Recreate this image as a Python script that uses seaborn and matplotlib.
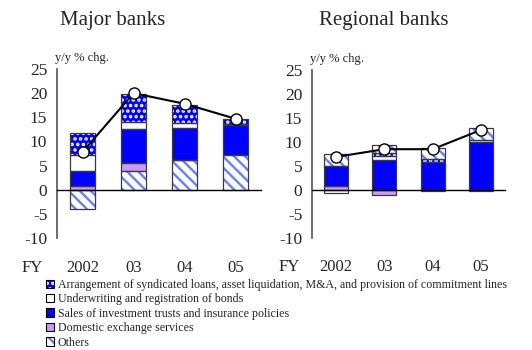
import matplotlib
matplotlib.use("Agg")
import matplotlib.pyplot as plt
import matplotlib.transforms as mtransforms
from matplotlib.patches import Patch
import numpy as np
import pandas as pd
import seaborn as sns

# ---- data -------------------------------------------------------------
years = ["2002", "03", "04", "05"]

series_names = [
    "Arrangement of syndicated loans, asset liquidation, M&A, and provision of commitment lines",
    "Underwriting and registration of bonds",
    "Sales of investment trusts and insurance policies",
    "Domestic exchange services",
    "Others",
]

major_arrangement = [4.6, 5.8, 3.8, 1.0]
major_underwriting = [3.3, 1.6, 1.1, 0.3]
major_sales = [3.0, 7.0, 6.5, 6.1]
major_domestic = [0.8, 1.6, 0.1, 0.0]
major_others = [-4.0, 3.9, 6.1, 7.2]
major_total = [7.8, 20.0, 17.8, 14.7]

regional_arrangement = [0.0, 0.7, 0.7, -0.3]
regional_underwriting = [-0.7, 0.8, 0.0, 0.4]
regional_sales = [4.1, 6.2, 5.8, 10.0]
regional_domestic = [0.9, -1.0, -0.3, 0.0]
regional_others = [2.6, 1.6, 2.2, 2.5]
regional_total = [6.9, 8.5, 8.5, 12.5]

y_ticks = [-10, -5, 0, 5, 10, 15, 20, 25]

# ---- style ------------------------------------------------------------
sns.set_style("white")
plt.rcParams["font.family"] = ["Liberation Serif", "DejaVu Serif"]
plt.rcParams["hatch.linewidth"] = 1.7

BLUE = "#0000FF"
PURPLE = "#CC99FF"
STRIPE = "#6680FF"

# face colour, hatch pattern, hatch colour
styles = {
    series_names[0]: (BLUE, "...", "white"),
    series_names[1]: ("white", None, None),
    series_names[2]: (BLUE, None, None),
    series_names[3]: (PURPLE, None, None),
    series_names[4]: ("white", "\\\\\\", STRIPE),
}

major = {
    series_names[0]: major_arrangement,
    series_names[1]: major_underwriting,
    series_names[2]: major_sales,
    series_names[3]: major_domestic,
    series_names[4]: major_others,
}
regional = {
    series_names[0]: regional_arrangement,
    series_names[1]: regional_underwriting,
    series_names[2]: regional_sales,
    series_names[3]: regional_domestic,
    series_names[4]: regional_others,
}

# stacking order (bottom to top) used in each panel
major_order = [series_names[4], series_names[3], series_names[2], series_names[1], series_names[0]]
regional_order = [series_names[3], series_names[2], series_names[1], series_names[0], series_names[4]]

fig = plt.figure(figsize=(5.32, 3.5), dpi=100)
W, H = 532, 350
ax1 = fig.add_axes([57 / W, 1 - 238 / H, (261 - 57) / W, (238 - 69) / H])
ax2 = fig.add_axes([312 / W, 1 - 238 / H, (505 - 312) / W, (238 - 70) / H])

EDGE = "#3a3a3a"
BAR_W = 0.5


def draw_panel(ax, data, order, total):
    x = np.arange(len(years))
    pos_base = np.zeros(len(years))
    neg_base = np.zeros(len(years))
    for name in order:
        vals = np.asarray(data[name], dtype=float)
        face, hatch, hcol = styles[name]
        pos = np.where(vals > 0, vals, 0.0)
        neg = np.where(vals < 0, vals, 0.0)
        for part, base in ((pos, pos_base), (neg, neg_base)):
            mask = part != 0
            if not mask.any():
                continue
            bottoms = np.where(part > 0, base, base + part)
            heights = np.abs(part)
            ax.bar(x[mask], heights[mask], bottom=bottoms[mask], width=BAR_W,
                   color=face, hatch=hatch, edgecolor=hcol if hatch else face,
                   linewidth=0, zorder=2)
            ax.bar(x[mask], heights[mask], bottom=bottoms[mask], width=BAR_W,
                   fill=False, edgecolor=EDGE, linewidth=0.9, zorder=3)
        pos_base = pos_base + pos
        neg_base = neg_base + neg

    df = pd.DataFrame({"x": x, "total": total})
    sns.lineplot(data=df, x="x", y="total", ax=ax, color="black", linewidth=1.5,
                 marker="o", markersize=8, markerfacecolor="white",
                 markeredgecolor="black", markeredgewidth=1.0, zorder=5)

    ax.set_xlim(-0.5, len(years) - 0.5)
    ax.set_ylim(-10, 25)
    ax.set_yticks(y_ticks)
    ax.set_yticklabels([str(t) for t in y_ticks], fontsize=12.5)
    ax.set_xticks(np.arange(len(years)) + 0.5)
    ax.set_xticklabels([])
    ax.set_xlabel("")
    ax.set_ylabel("")
    for side in ("top", "right"):
        ax.spines[side].set_visible(False)
    ax.spines["left"].set_color("#555555")
    ax.spines["left"].set_linewidth(1.2)
    ax.spines["bottom"].set_position(("data", 0))
    ax.spines["bottom"].set_color("black")
    ax.spines["bottom"].set_linewidth(1.0)
    ax.spines["bottom"].set_zorder(4)
    ax.tick_params(axis="y", direction="in", length=4, width=1, color="#555555", pad=7)
    ax.tick_params(axis="x", direction="in", length=4, width=1, color="#555555")
    ax.patch.set_alpha(0)

    trans = mtransforms.blended_transform_factory(ax.transData, ax.transAxes)
    for i, lab in enumerate(years):
        ax.text(i, -0.175, lab, transform=trans, ha="center", va="center", fontsize=12)
    ax.text(-0.12, -0.175, "FY", transform=ax.transAxes, ha="center", va="center", fontsize=12)
    ax.text(-0.01, 1.065, "y/y % chg.", transform=ax.transAxes, ha="left", va="center", fontsize=9)


draw_panel(ax1, major, major_order, major_total)
draw_panel(ax2, regional, regional_order, regional_total)

fig.text(113 / W, 1 - 20 / H, "Major banks", ha="center", va="center", fontsize=15)
fig.text(384 / W, 1 - 20 / H, "Regional banks", ha="center", va="center", fontsize=15)

# ---- legend -----------------------------------------------------------
handles = []
for name in series_names:
    face, hatch, hcol = styles[name]
    fill = Patch(facecolor=face, hatch=hatch, edgecolor=hcol if hatch else face, linewidth=0)
    outline = Patch(fill=False, edgecolor="black", linewidth=0.8)
    handles.append((fill, outline))

fig.legend(handles, series_names, loc="upper left", bbox_to_anchor=(46 / W, 1 - 279 / H),
           frameon=False, fontsize=8.6, handlelength=0.7, handleheight=0.7,
           handletextpad=0.3, labelspacing=0.2, borderpad=0, borderaxespad=0)

fig.savefig("out.png", dpi=100)
